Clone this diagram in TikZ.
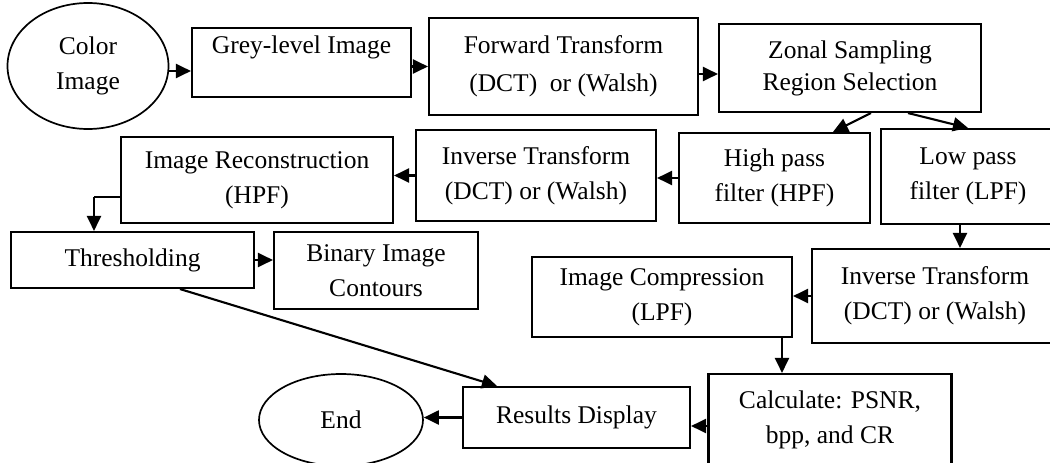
\documentclass[tikz,border=0pt]{standalone}
\usepackage{fontspec}
\setmainfont{Liberation Serif}
\usetikzlibrary{shapes.geometric,arrows.meta}
\begin{document}
\begin{tikzpicture}[x=1pt,y=-1pt,
  every node/.style={font=\fontsize{25.5}{35}\selectfont, align=center},
  box/.style={draw, line width=2.1pt, rectangle, inner sep=0pt},
  oval/.style={draw, line width=1.7pt, ellipse, inner sep=0pt},
  arr/.style={line width=2.1pt, -{Triangle[length=15pt,width=14pt]}},
  conn/.style={line width=1.1pt}
]
\useasboundingbox (0,0) rectangle (1050,463);

\node[oval, minimum width=161pt, minimum height=126pt] (color) at (88,66) {Color\\Image};
\node[box, minimum width=219pt, minimum height=69pt] (grey) at (301.5,62.5) {Grey-level Image\\\mbox{}};
\node[box, minimum width=269pt, minimum height=97pt] (fwd) at (563.5,66.5) {Forward Transform\\[3pt](DCT) ~or (Walsh)};
\node[box, minimum width=262pt, minimum height=88pt] (zonal) at (850,68) {Zonal Sampling\\[-3pt]Region Selection};

\node[box, minimum width=191pt, minimum height=90pt] (hpf) at (774.5,178) {High pass\\filter (HPF)};
\node[box, minimum width=174pt, minimum height=95pt] (lpf) at (968,176.5) {Low pass\\filter (LPF)};
\node[box, minimum width=240pt, minimum height=91pt] (inva) at (536,175.5) {Inverse Transform\\(DCT) or (Walsh)};
\node[box, minimum width=272pt, minimum height=86pt] (recon) at (257,180) {Image Reconstruction\\(HPF)};

\node[box, minimum width=243pt, minimum height=56pt] (thr) at (132.5,260) {Thresholding};
\node[box, minimum width=204pt, minimum height=77pt] (bin) at (376,270.5) {Binary Image\\Contours};

\node[box, minimum width=246pt, minimum height=94pt] (invb) at (935,296) {Inverse Transform\\(DCT) or (Walsh)};
\node[box, minimum width=260pt, minimum height=80pt] (comp) at (662,297) {Image Compression\\(LPF)};

\node[box, minimum width=243pt, minimum height=92pt] (calc) at (830,420) {Calculate: PSNR,\\bpp, and CR};
\node[box, minimum width=227pt, minimum height=61pt] (res) at (576.5,417.5) {Results Display};
\node[oval, minimum width=164pt, minimum height=92pt] (end) at (341,420) {End};

% connectors
\draw[arr] ([yshift=-5pt]color.east) -- ([yshift=-5pt]color.east -| grey.west);
\draw[arr] (fwd.west -| grey.east) -- (fwd.west);
\draw[arr] ([yshift=-6pt]zonal.west -| fwd.east) -- ([yshift=-6pt]zonal.west);
\draw[arr] ([xshift=21pt]zonal.south) -- ([xshift=58.5pt]hpf.north);
\draw[arr] ([xshift=58pt]zonal.south) -- (lpf.north);
\draw[arr] (hpf.west) -- (hpf.west -| inva.east);
\draw[arr] (inva.west) -- (inva.west -| recon.east);
\coordinate (rc) at (94,197);
\draw[conn] (recon.west |- rc) -- (rc);
\draw[arr] (rc) -- (rc |- thr.north);
\draw[arr] (thr.east) -- (thr.east -| bin.west);
\draw[arr] ([xshift=-8pt]lpf.south) -- ([xshift=-8pt]lpf.south |- invb.north);
\draw[arr] (invb.west) -- (invb.west -| comp.east);
\draw[arr] ([xshift=120pt]comp.south) -- ([xshift=120pt]comp.south |- calc.north);
\draw[arr] ([yshift=-6pt]calc.west) -- ([yshift=-6pt]calc.west -| res.east);
\draw[arr] (res.west) -- (res.west -| end.east);
\draw[arr] ([xshift=47.5pt]thr.south) -- ([xshift=-79.5pt]res.north);
\end{tikzpicture}
\end{document}
